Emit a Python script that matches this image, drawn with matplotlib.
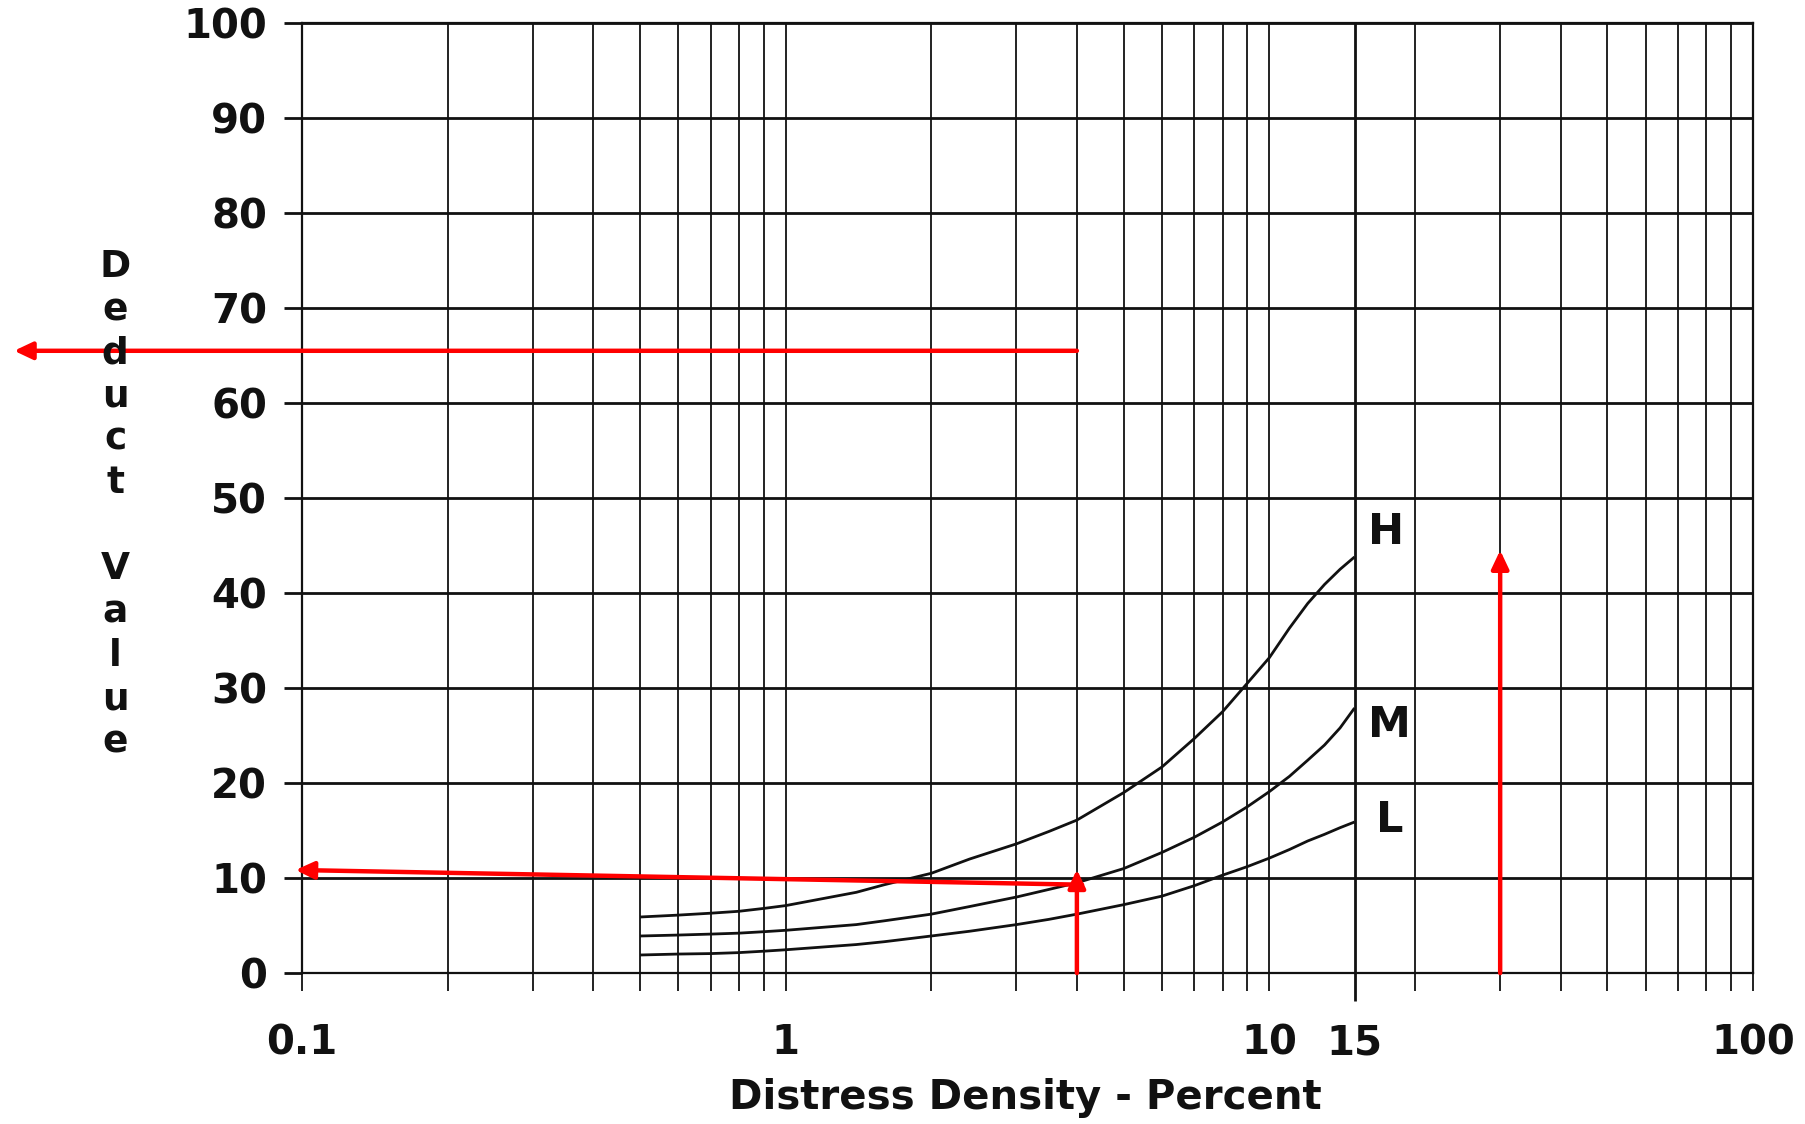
import matplotlib
matplotlib.use('Agg')
import matplotlib.pyplot as plt
import numpy as np

# ---- Data ----
density = [0.5, 0.6, 0.7, 0.8, 0.9, 1.0, 1.4, 1.6, 2, 2.4, 3, 3.5, 4, 5, 6, 7, 8, 9,
           10, 11, 12, 13, 14, 15]
deduct_H = [5.9, 6.1, 6.3, 6.5, 6.8, 7.1, 8.5, 9.3, 10.5, 12.0, 13.6, 14.9, 16.1, 19.0,
            21.7, 24.7, 27.5, 30.5, 33.2, 36.3, 38.9, 40.9, 42.5, 43.8]
deduct_M = [3.9, 4.0, 4.1, 4.2, 4.35, 4.5, 5.1, 5.5, 6.2, 7.0, 8.0, 8.8, 9.5, 11.0,
            12.7, 14.3, 15.9, 17.5, 19.1, 20.7, 22.4, 24.0, 25.8, 27.9]
deduct_L = [1.9, 2.0, 2.05, 2.15, 2.3, 2.45, 3.0, 3.3, 3.9, 4.4, 5.1, 5.65, 6.2, 7.2,
            8.1, 9.2, 10.3, 11.2, 12.1, 13.0, 13.9, 14.6, 15.3, 15.9]

curve_names = ['H', 'M', 'L']
label_x = [16.0, 16.0, 16.6]
label_y = [46.4, 26.1, 16.1]

major_x = [0.1, 1, 10, 15, 100]
major_x_labels = ['0.1', '1', '10', '15', '100']
minor_x = [0.2, 0.3, 0.4, 0.5, 0.6, 0.7, 0.8, 0.9,
           2, 3, 4, 5, 6, 7, 8, 9,
           20, 30, 40, 50, 60, 70, 80, 90]
y_ticks = list(range(0, 101, 10))

# red reading arrows: (x_start, y_start, x_end, y_end)
arrows = [
    (4, 65.5, 0.0254, 65.5),
    (4, 0, 4, 10.9),
    (4.1, 9.3, 0.097, 10.85),
    (30, 0, 30, 44.5),
]

FONT = 'DejaVu Sans'
INK = '#111111'

fig = plt.figure(figsize=(18.06, 11.24), dpi=100)
ax = fig.add_axes([0.1672, 0.1343, 0.8035, 0.8452])

ax.set_xscale('log')
ax.set_xlim(0.1, 100)
ax.set_ylim(0, 100)

ax.set_xticks(major_x)
ax.set_xticklabels(major_x_labels)
ax.set_xticks(minor_x, minor=True)
ax.xaxis.set_minor_formatter(matplotlib.ticker.NullFormatter())
ax.set_yticks(y_ticks)

ax.grid(which='both', axis='x', color=INK, lw=1.3)
ax.grid(which='major', axis='y', color=INK, lw=2.0)
ax.set_axisbelow(True)

ax.tick_params(axis='x', which='both', direction='out', length=13, width=1.3,
               color=INK, pad=23)
ax.tick_params(axis='y', which='major', direction='out', length=13, width=2.0,
               color=INK, pad=12)
for lab in ax.get_xticklabels() + ax.get_yticklabels():
    lab.set_fontfamily(FONT)
    lab.set_fontweight('bold')
    lab.set_fontsize(29)
    lab.set_color(INK)

# the 15 line runs a little further down
for t in ax.xaxis.get_major_ticks():
    if t.get_loc() == 15:
        t.tick1line.set_markersize(20)
        t.tick1line.set_markeredgewidth(2.0)
        t.gridline.set_linewidth(2.0)

for s in ax.spines.values():
    s.set_color(INK)
    s.set_linewidth(1.6)

# curves
for vals in [deduct_H, deduct_M, deduct_L]:
    ax.plot(density, vals, color=INK, lw=2.0, solid_capstyle='butt')

for name, lx, ly in zip(curve_names, label_x, label_y):
    ax.text(lx, ly, name, ha='left', va='center', fontsize=31,
            fontfamily=FONT, fontweight='bold', color=INK)

# red arrows
for x0, y0, x1, y1 in arrows:
    ax.annotate('', xy=(x1, y1), xytext=(x0, y0), xycoords='data',
                annotation_clip=False,
                arrowprops=dict(arrowstyle='-|>,head_length=0.55,head_width=0.26',
                                color='#ff0000', lw=3.2, shrinkA=0, shrinkB=0,
                                mutation_scale=20))

# axis titles
fig.text(0.5676, 0.0231, 'Distress Density - Percent', ha='center', va='center',
         fontsize=29, fontfamily=FONT, fontweight='bold', color=INK)

ylab = 'Deduct Value'
y0 = 1 - 267 / 1124
step = 43.2 / 1124
for i, ch in enumerate(ylab):
    if ch == ' ':
        continue
    fig.text(0.0637, y0 - i * step, ch, ha='center', va='center',
             fontsize=27, fontfamily=FONT, fontweight='bold', color=INK)

fig.savefig('out.png', dpi=100, facecolor='white')
